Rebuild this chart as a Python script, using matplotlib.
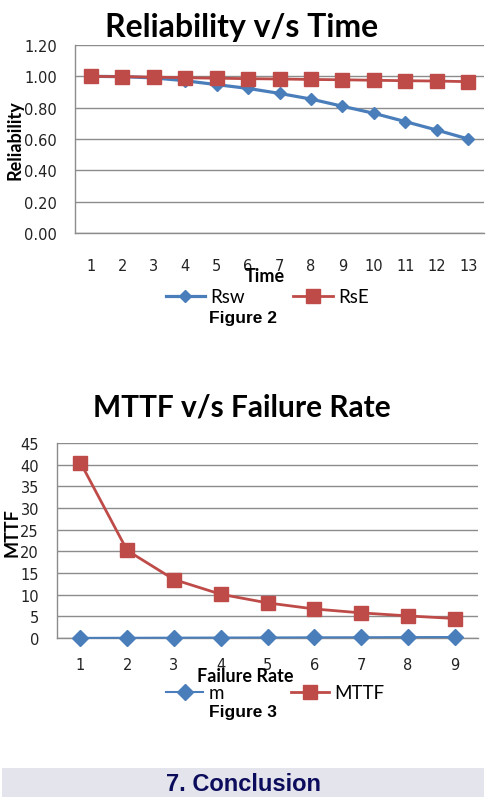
import numpy as np
import matplotlib
matplotlib.use("Agg")
import matplotlib.pyplot as plt
from matplotlib.patches import Rectangle

# Dados
tempo = list(range(1, 14))
rsw = [1.00, 0.998, 0.99, 0.972, 0.947, 0.923, 0.891, 0.855, 0.809, 0.764, 0.711, 0.657, 0.600]
rse = [1.00, 0.998, 0.995, 0.991, 0.988, 0.985, 0.983, 0.980, 0.978, 0.975, 0.972, 0.970, 0.966]

taxa_falha = list(range(1, 10))
m = [0.02, 0.05, 0.07, 0.10, 0.12, 0.15, 0.17, 0.20, 0.22]
mttf = [40.5, 20.2, 13.5, 10.1, 8.1, 6.7, 5.8, 5.1, 4.5]

rel_ticks = [0.0, 0.2, 0.4, 0.6, 0.8, 1.0, 1.2]
mttf_ticks = list(range(0, 50, 5))

AZUL = '#4a7ebb'
VERMELHO = '#be4b48'
GRADE = '#8c8c8c'
W, H = 490, 804

fig = plt.figure(figsize=(W / 100, H / 100), dpi=100)
fig.patch.set_facecolor('white')


def eixo(px_left, px_right, px_top, px_bottom):
    return fig.add_axes([px_left / W, 1 - px_bottom / H,
                         (px_right - px_left) / W, (px_bottom - px_top) / H])


def estilo(ax, yticks, fmt, ypad, xpad):
    ax.set_yticks(yticks)
    ax.set_yticklabels([fmt.format(v) for v in yticks])
    ax.set_ylim(yticks[0], yticks[-1])
    ax.yaxis.grid(True, color=GRADE, lw=1)
    ax.set_axisbelow(True)
    for s in ['top', 'right']:
        ax.spines[s].set_visible(False)
    for s in ['left', 'bottom']:
        ax.spines[s].set_color(GRADE)
        ax.spines[s].set_linewidth(1)
    ax.tick_params(axis='y', length=0, pad=ypad, labelsize=10.5, labelcolor='#222222')
    ax.tick_params(axis='x', length=0, pad=xpad, labelsize=10.5, labelcolor='#222222')


# ---- Figura 2: Confiabilidade x Tempo
ax1 = eixo(75, 484, 46, 234)
ax1.plot(tempo, rsw, color=AZUL, lw=2.3, marker='D', ms=6.5, label='Rsw', zorder=3)
ax1.plot(tempo, rse, color=VERMELHO, lw=2.0, marker='s', ms=9.5, label='RsE', zorder=4)
ax1.set_xlim(0.5, len(tempo) + 0.5)
ax1.set_xticks(tempo)
estilo(ax1, rel_ticks, '{:.2f}', 13, 18)

fig.text(242 / W, 1 - 28 / H, 'Reliability v/s Time', ha='center', va='center',
         family='Lato', weight='bold', fontsize=23)
fig.text(265 / W, 1 - 277 / H, 'Time', ha='center', va='center',
         family='Lato', weight='bold', fontsize=13)
fig.text(15 / W, 1 - 140 / H, 'Reliability', ha='center', va='center', rotation=90,
         family='Lato', weight='bold', fontsize=13)
fig.legend(*ax1.get_legend_handles_labels(), loc='center', ncol=2,
           bbox_to_anchor=(267 / W, 1 - 298 / H), frameon=False,
           prop={'family': 'Lato', 'size': 13.5}, handlelength=2.1,
           columnspacing=2.6, handletextpad=0.27)
fig.text(243 / W, 1 - 319 / H, 'Figure 2', ha='center', va='center',
         family='Liberation Sans', weight='bold', fontsize=12.5)

# ---- Figura 3: MTTF x Taxa de falha
ax2 = eixo(57, 478, 444, 639)
ax2.plot(taxa_falha, m, color=AZUL, lw=1.5, marker='D', ms=8, label='m', zorder=3,
         clip_on=False)
ax2.plot(taxa_falha, mttf, color=VERMELHO, lw=2.0, marker='s', ms=10, label='MTTF', zorder=4)
ax2.set_xlim(0.5, len(taxa_falha) + 0.5)
ax2.set_xticks(taxa_falha)
estilo(ax2, mttf_ticks, '{:d}', 13, 14)

fig.text(242 / W, 1 - 408 / H, 'MTTF v/s Failure Rate', ha='center', va='center',
         family='Lato', weight='bold', fontsize=21.5)
fig.text(245 / W, 1 - 677 / H, 'Failure Rate', ha='center', va='center',
         family='Lato', weight='bold', fontsize=13)
fig.text(12 / W, 1 - 533 / H, 'MTTF', ha='center', va='center', rotation=90,
         family='Lato', weight='bold', fontsize=13)
fig.legend(*ax2.get_legend_handles_labels(), loc='center', ncol=2,
           bbox_to_anchor=(275 / W, 1 - 694 / H), frameon=False,
           prop={'family': 'Lato', 'size': 13.5}, handlelength=2.0,
           columnspacing=3.6, handletextpad=0.27)
fig.text(243 / W, 1 - 713 / H, 'Figure 3', ha='center', va='center',
         family='Liberation Sans', weight='bold', fontsize=12.5)

# ---- Faixa "7. Conclusion"
fig.patches.append(Rectangle((2 / W, 1 - 798 / H), 482 / W, 29 / H,
                             transform=fig.transFigure, facecolor='#e4e4ec',
                             edgecolor='none', zorder=0))
fig.text(243 / W, 1 - 785 / H, '7. Conclusion', ha='center', va='center',
         family='Liberation Sans', weight='bold', fontsize=17, color='#0c0c5c')

fig.savefig('out.png', dpi=100)
